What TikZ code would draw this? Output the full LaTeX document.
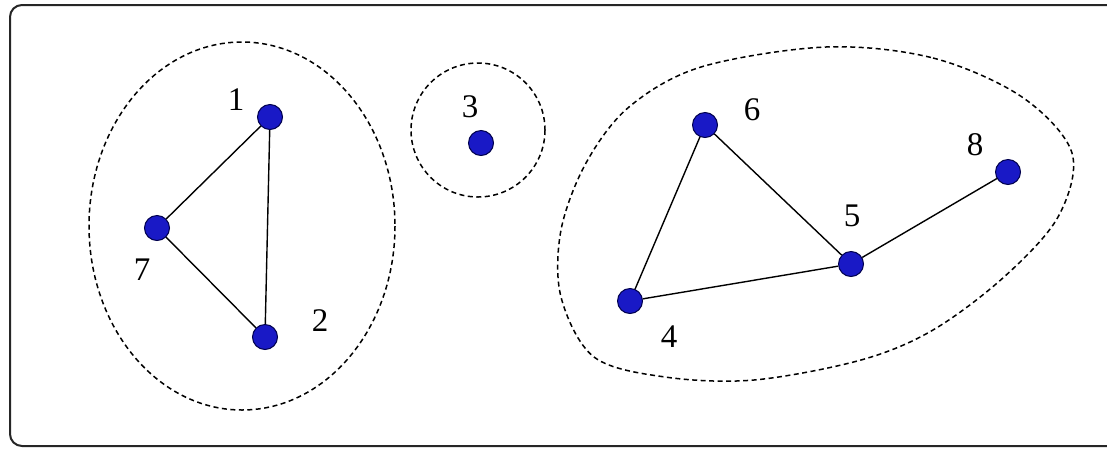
\documentclass[tikz,border=0pt]{standalone}
\usepackage{fontspec}
\setmainfont{Liberation Serif}
\begin{document}
\begin{tikzpicture}[x=1pt,y=-1pt,
  vert/.style={circle,draw=blue!30!black,line width=1pt,fill=blue!75!black!90,minimum size=25pt,inner sep=0pt},
  lbl/.style={font=\fontsize{33}{36}\selectfont,inner sep=0pt},
  edge/.style={line width=1.4pt,black},
  grp/.style={dash pattern=on 5pt off 3.5pt,line width=1.5pt,black}]
\useasboundingbox (0,0) rectangle (1107,448);
\draw[line width=2pt,black!85,rounded corners=12pt] (1112,5) -| (10,446) -- (1112,446);
% groups
\draw[grp] (242,226) ellipse [x radius=153, y radius=184];
\draw[grp] (478,130) ellipse [x radius=67, y radius=67];
\draw[grp] plot[smooth cycle, tension=0.55] coordinates {(826,47) (933,58) (1022,97) (1072,153) (1058,217) (1004,277) (933,330) (861,360) (754,380) (665,377) (594,357) (561,297) (561,230) (586,163) (629,107) (701,67)};
% vertices
\node[vert] (n1) at (270,117) {};
\node[vert] (n7) at (157,228) {};
\node[vert] (n2) at (265,337) {};
\node[vert] (n3) at (481,143) {};
\node[vert] (n6) at (705,125) {};
\node[vert] (n8) at (1008,172) {};
\node[vert] (n5) at (851,264) {};
\node[vert] (n4) at (630,301) {};
% edges
\draw[edge] (n1) -- (n7);
\draw[edge] (n1) -- (n2);
\draw[edge] (n7) -- (n2);
\draw[edge] (n6) -- (n4);
\draw[edge] (n6) -- (n5);
\draw[edge] (n4) -- (n5);
\draw[edge] (n5) -- (n8);
% labels
\node[lbl] (l1) at (236,100) {1};
\node[lbl] (l7) at (142,270) {7};
\node[lbl] (l2) at (320,321) {2};
\node[lbl] (l3) at (470,107) {3};
\node[lbl] (l6) at (752,110) {6};
\node[lbl] (l8) at (975,145) {8};
\node[lbl] (l5) at (852,216) {5};
\node[lbl] (l4) at (669,337) {4};
\end{tikzpicture}
\end{document}
